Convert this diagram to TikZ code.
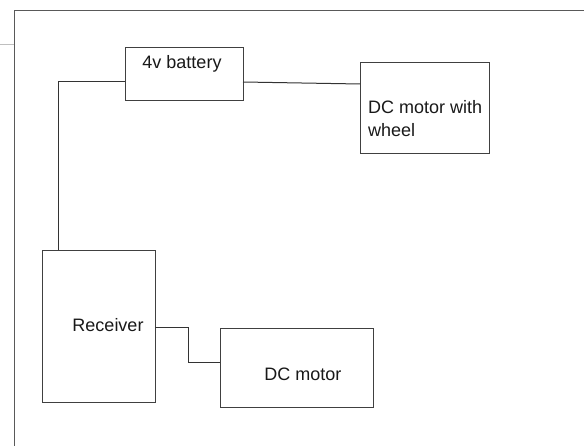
\documentclass[tikz,border=0pt]{standalone}
\usepackage{fontspec}
\setmainfont{Liberation Sans}
\begin{document}
\begin{tikzpicture}[x=1pt,y=-1pt,
  box/.style={draw=black!75,line width=1pt,inner sep=0pt,anchor=north west},
  wire/.style={draw=black!80,line width=1pt},
  lbl/.style={font=\fontsize{18}{23}\selectfont,inner sep=0pt,text=black!90}]
\useasboundingbox[fill=white] (0,0) rectangle (584,446);
% frame
\draw[black!65,line width=1pt] (14,446) -- (14,11) -- (584,11);
\draw[black!25,line width=0.8pt] (0,44) -- (14,44);
% boxes
\node[box,minimum width=118.5pt,minimum height=52.5pt] (bat) at (124.5,47.5) {};
\node[lbl] at (182,64) {4v battery};
\node[box,minimum width=129pt,minimum height=91pt] (dcw) at (360,62) {};
\node[lbl,align=left,anchor=west] at (368,119) {DC motor with\\wheel};
\node[box,minimum width=113pt,minimum height=152pt] (rec) at (42,250) {};
\node[lbl] at (108,325) {Receiver};
\node[box,minimum width=153pt,minimum height=79pt] (dcm) at (220,328) {};
\node[lbl] at (303,374) {DC motor};
% wires
\coordinate (ba) at (124.5,82);
\draw[wire] (ba) -| (58,250);
\draw[wire] (243,82) -- (360,84);
\draw[wire] (155,327.5) -- (188,327.5) |- (220,362.5);
\end{tikzpicture}
\end{document}
